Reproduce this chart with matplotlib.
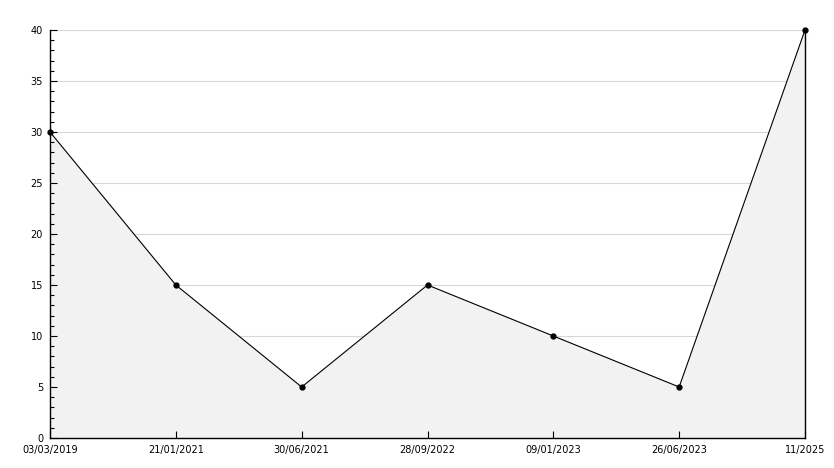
import matplotlib
matplotlib.use("Agg")
import matplotlib.pyplot as plt
from matplotlib.ticker import MultipleLocator

labels = ["03/03/2019", "21/01/2021", "30/06/2021", "28/09/2022", "09/01/2023", "26/06/2023", "11/2025"]
values = [30, 15, 5, 15, 10, 5, 40]
grid_levels = [5, 10, 15, 20, 25, 30, 35, 40]

W, H = 834, 468
fig = plt.figure(figsize=(W/100, H/100), dpi=100)
ax = fig.add_axes([50/W, 1-438/H, (805-50)/W, (438-30)/H])
x = list(range(len(labels)))
for g in grid_levels:
    ax.axhline(g, color="#d8d8d8", lw=0.8, zorder=0.2)
ax.fill_between(x, values, 0, color="#f2f2f2", zorder=0.5)
ax.plot(x, values, color="black", lw=0.8, marker="o", ms=3.5, zorder=3, clip_on=False)
ax.set_xlim(0, len(labels)-1)
ax.set_ylim(0, 40)
ax.set_xticks(x)
ax.set_xticklabels(labels)
ax.yaxis.set_major_locator(MultipleLocator(5))
ax.yaxis.set_minor_locator(MultipleLocator(1))
ax.set_axisbelow(False)
ax.tick_params(axis="both", which="major", direction="in", length=5, width=0.8, labelsize=7)
ax.tick_params(axis="x", which="major", pad=5)
ax.tick_params(axis="y", which="major", pad=5)
ax.tick_params(axis="y", which="minor", direction="in", length=3, width=0.8)
for s in ["left", "bottom", "right"]:
    ax.spines[s].set_linewidth(1.0)
ax.spines["top"].set_visible(False)
fig.savefig("out.png", dpi=100)
